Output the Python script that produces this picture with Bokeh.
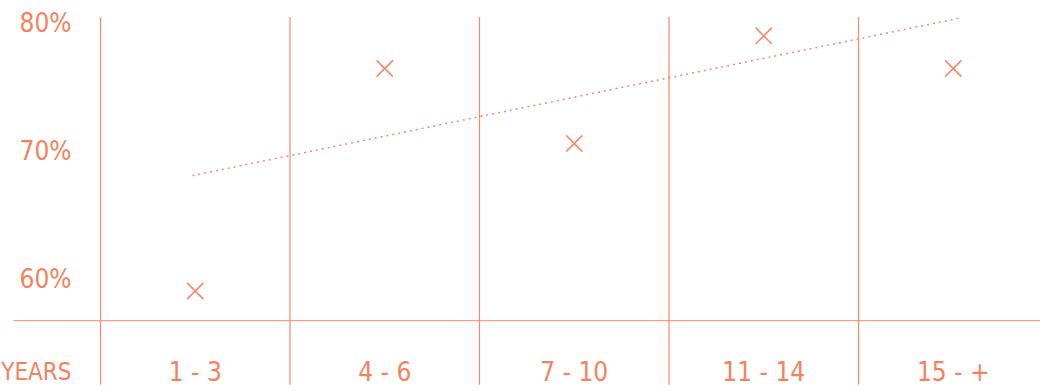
from bokeh.plotting import figure
from bokeh.models import Range1d, ColumnDataSource
from bokeh.core.properties import value
from bokeh.embed import file_html
from bokeh.resources import INLINE

# ---- data ----
categories = ["1 - 3", "4 - 6", "7 - 10", "11 - 14", "15 - +"]
share = [59.1, 76.45, 70.6, 79.0, 76.45]          # percent
trend_values = [68.1, 80.4]                      # trend line start / end (percent)
y_ticks = [60, 70, 80]
y_tick_labels = ["60%", "70%", "80%"]
x_axis_title = "YEARS"

# ---- style / layout ----
TEXT_COLOR = "#F4825F"
LINE_COLOR = "#F5896C"
FONT = value("DejaVu Sans Condensed")
FONT_SIZE = "26px"
TITLE_FONT_SIZE = "24px"

X_MIN, X_MAX = -0.0277, 5.4604
Y_MIN, Y_MAX = 51.267, 81.754
BASE_VALUE = 56.8        # horizontal baseline
LINE_TOP = 80.47         # top of vertical separators
LINE_BOTTOM = 51.8
LABEL_VALUE = 52.75      # vertical centre of category labels
LABEL_RIGHT_X = 0.347    # right edge of left labels
BASE_LEFT_X = 0.041

p = figure(width=1040, height=391, x_range=Range1d(X_MIN, X_MAX), y_range=Range1d(Y_MIN, Y_MAX),
           toolbar_location=None, output_backend="svg", min_border=0,
           x_axis_location=None, y_axis_location=None)
p.grid.visible = False
p.outline_line_color = None
p.background_fill_color = "white"
p.border_fill_color = "white"

n = len(categories)
xs = [i + 1 for i in range(n)]

# vertical separators
sep_x = [i + 0.5 for i in range(n)]
p.segment(x0=sep_x, y0=[LINE_BOTTOM] * n, x1=sep_x, y1=[LINE_TOP] * n,
          line_color=LINE_COLOR, line_width=1.2)

# baseline
p.segment(x0=[BASE_LEFT_X], y0=[BASE_VALUE], x1=[X_MAX], y1=[BASE_VALUE],
          line_color=LINE_COLOR, line_width=1.2, line_alpha=0.8)

# trend line
p.line(x=[xs[0] - 0.015, xs[-1] + 0.04], y=trend_values, line_color=LINE_COLOR,
       line_width=1.5, line_dash="2 4")

# points
src = ColumnDataSource(dict(x=xs, y=share))
p.scatter(x="x", y="y", source=src, marker="x", size=23, line_color=LINE_COLOR, line_width=1.6)

# y tick labels
p.text(x=[LABEL_RIGHT_X] * len(y_ticks), y=y_ticks, text=y_tick_labels,
       text_align="right", text_baseline="middle", text_font=FONT,
       text_font_size=FONT_SIZE, text_color=TEXT_COLOR)

# category labels
p.text(x=xs, y=[LABEL_VALUE] * n, text=categories, text_align="center",
       text_baseline="middle", text_font=FONT, text_font_size=FONT_SIZE, text_color=TEXT_COLOR)
p.text(x=[LABEL_RIGHT_X], y=[LABEL_VALUE], text=[x_axis_title], text_align="right",
       text_baseline="middle", text_font=FONT, text_font_size=TITLE_FONT_SIZE, text_color=TEXT_COLOR)

open("out.html", "w").write(file_html(p, INLINE))
